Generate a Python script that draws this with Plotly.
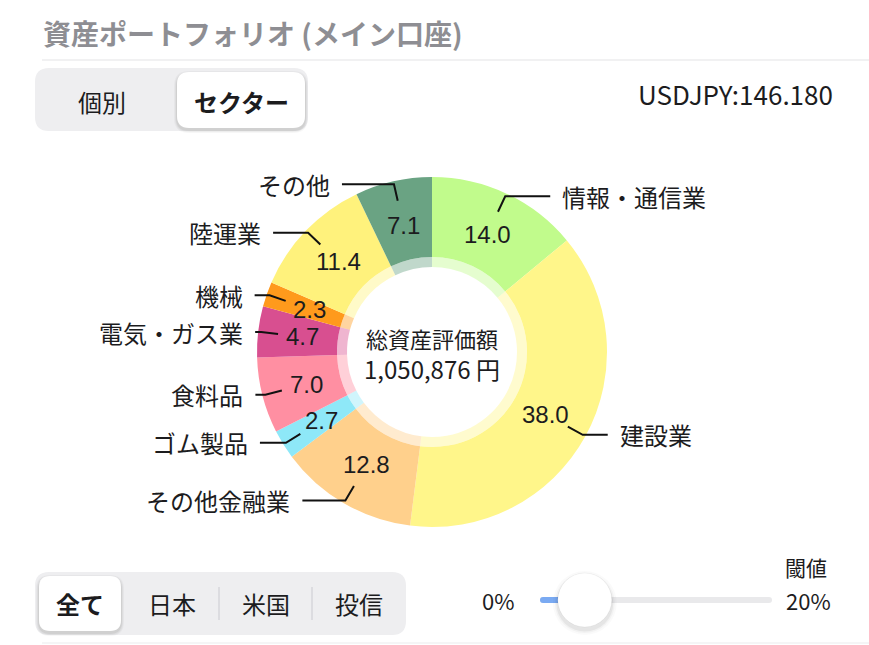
import math
import plotly.graph_objects as go

# ---------------- data ----------------
title_text = "資産ポートフォリオ (メイン口座)"
view_tabs = ["個別", "セクター"]
selected_view = 1
market_tabs = ["全て", "日本", "米国", "投信"]
selected_market = 0
usdjpy = 146.180
center_title = "総資産評価額"
total_value = 1050876
threshold_label = "閾値"
threshold_min = 0
threshold_max = 20
threshold_value = 2

labels = ["情報・通信業", "建設業", "その他金融業", "ゴム製品", "食料品",
          "電気・ガス業", "機械", "陸運業", "その他"]
values = [14.0, 38.0, 12.8, 2.7, 7.0, 4.7, 2.3, 11.4, 7.1]
colors = ["#c1fb8c", "#fff68a", "#ffd08c", "#8ee8f8", "#ff8fa2",
          "#d84f90", "#ff9a1c", "#fff27c", "#6aa383"]

# ---------------- layout helpers ----------------
W, H = 869, 645
FONT = "Noto Sans CJK JP"
NUM_FONT = "Liberation Sans"
TEXT = "#1c1c1e"


def X(px):
    return px / W


def Y(py):
    return 1 - py / H


def rrect(x0, y0, x1, y1, r):
    return (f"M {X(x0 + r)},{Y(y0)} L {X(x1 - r)},{Y(y0)} "
            f"Q {X(x1)},{Y(y0)} {X(x1)},{Y(y0 + r)} L {X(x1)},{Y(y1 - r)} "
            f"Q {X(x1)},{Y(y1)} {X(x1 - r)},{Y(y1)} L {X(x0 + r)},{Y(y1)} "
            f"Q {X(x0)},{Y(y1)} {X(x0)},{Y(y1 - r)} L {X(x0)},{Y(y0 + r)} "
            f"Q {X(x0)},{Y(y0)} {X(x0 + r)},{Y(y0)} Z")


def rgba(hexc, a):
    h = hexc.lstrip("#")
    return f"rgba({int(h[0:2], 16)},{int(h[2:4], 16)},{int(h[4:6], 16)},{a})"


def text(px, py, s, size, xanchor="center", color=TEXT, weight=400, family=FONT):
    return dict(x=X(px), y=Y(py), xref="paper", yref="paper", text=s, showarrow=False,
                xanchor=xanchor, yanchor="middle",
                font=dict(family=family, size=size, color=color, weight=weight))


cx, cy = 432, 352
R_OUT, R_IN, R_RING = 175, 95, 85
R_VAL, R_LEAD0, R_LEAD1 = 130, 155, 172
leader_len = [45, 25, 43, 26, 10, 6, 15, 35, 52]

shapes = []
annotations = []

# ---------------- donut ----------------
fig = go.Figure()
fig.add_trace(go.Pie(
    labels=labels, values=values, sort=False, direction="clockwise", rotation=0,
    hole=R_IN / R_OUT, marker=dict(colors=colors, line=dict(width=0)),
    textinfo="none", hoverinfo="label+value", showlegend=False,
    domain=dict(x=[X(cx - R_OUT), X(cx + R_OUT)], y=[Y(cy + R_OUT), Y(cy - R_OUT)]),
))
fig.add_trace(go.Pie(
    labels=labels, values=values, sort=False, direction="clockwise", rotation=0,
    hole=R_RING / R_IN,
    marker=dict(colors=[rgba(c, 0.42) for c in colors], line=dict(width=0)),
    textinfo="none", hoverinfo="skip", showlegend=False,
    domain=dict(x=[X(cx - R_IN), X(cx + R_IN)], y=[Y(cy + R_IN), Y(cy - R_IN)]),
))

total = sum(values)
cum = 0.0
for i, (lab, v) in enumerate(zip(labels, values)):
    th = 2 * math.pi * (cum + v / 2) / total
    cum += v
    s, c = math.sin(th), math.cos(th)
    # value label
    annotations.append(text(cx + R_VAL * s, cy - R_VAL * c, f"{v:.1f}", 24,
                            family=NUM_FONT))
    # leader line
    x0, y0 = cx + R_LEAD0 * s, cy - R_LEAD0 * c
    x1, y1 = cx + R_LEAD1 * s, cy - R_LEAD1 * c
    side = 1 if s > 0 else -1
    x2 = x1 + side * leader_len[i]
    shapes.append(dict(
        type="path", xref="paper", yref="paper",
        path=f"M {X(x0)},{Y(y0)} L {X(x1)},{Y(y1)} L {X(x2)},{Y(y1)}",
        line=dict(color="#111111", width=2)))
    annotations.append(text(x2 + side * 10, y1, lab, 24,
                            xanchor="left" if side > 0 else "right"))

annotations.append(text(cx, 338, center_title, 22))
annotations.append(text(cx, 368, f"{total_value:,} 円", 24))

# ---------------- header ----------------
annotations.append(text(41, 33, title_text, 28, xanchor="left",
                        color="#8e8e93", weight=700))
shapes.append(dict(type="line", xref="paper", yref="paper", x0=X(42), x1=X(869),
                   y0=Y(60), y1=Y(60), line=dict(color="#e3e3e6", width=1.2)))
shapes.append(dict(type="line", xref="paper", yref="paper", x0=X(42), x1=X(869),
                   y0=Y(643), y1=Y(643), line=dict(color="#ececee", width=1.2)))

annotations.append(text(835, 93, f"USDJPY:{usdjpy:.3f}", 26, xanchor="right"))

# top segmented control
shapes.append(dict(type="path", xref="paper", yref="paper",
                   path=rrect(35, 68, 308, 131, 14), fillcolor="#eeeef0",
                   line=dict(width=0), layer="below"))
top_centers = [102, 241]
top_boxes = [(38, 72, 174, 128), (177, 72, 305, 128)]
for k, (lab, xc) in enumerate(zip(view_tabs, top_centers)):
    if k == selected_view:
        bx = top_boxes[k]
        for d, a in [(3, 0.03), (2, 0.04), (1, 0.06)]:
            shapes.append(dict(type="path", xref="paper", yref="paper",
                               path=rrect(bx[0] - d, bx[1] - d + 2, bx[2] + d, bx[3] + d + 2, 12 + d),
                               fillcolor=f"rgba(0,0,0,{a})", line=dict(width=0), layer="below"))
        shapes.append(dict(type="path", xref="paper", yref="paper",
                           path=rrect(*bx, 12), fillcolor="#ffffff",
                           line=dict(width=0), layer="below"))
    annotations.append(text(xc, 101, lab, 24, weight=700 if k == selected_view else 400))

# bottom segmented control
shapes.append(dict(type="path", xref="paper", yref="paper",
                   path=rrect(35, 572, 406, 635, 14), fillcolor="#eeeef0",
                   line=dict(width=0), layer="below"))
bot_centers = [80, 172, 266, 359]
bot_box = (39, 576, 121, 631)
for k, (lab, xc) in enumerate(zip(market_tabs, bot_centers)):
    if k == selected_market:
        bx = bot_box
        for d, a in [(3, 0.03), (2, 0.04), (1, 0.06)]:
            shapes.append(dict(type="path", xref="paper", yref="paper",
                               path=rrect(bx[0] - d, bx[1] - d + 2, bx[2] + d, bx[3] + d + 2, 11 + d),
                               fillcolor=f"rgba(0,0,0,{a})", line=dict(width=0), layer="below"))
        shapes.append(dict(type="path", xref="paper", yref="paper",
                           path=rrect(*bx, 11), fillcolor="#ffffff",
                           line=dict(width=0), layer="below"))
    annotations.append(text(xc, 603, lab, 24, weight=700 if k == selected_market else 400))
for xd in [219, 312]:
    shapes.append(dict(type="line", xref="paper", yref="paper", x0=X(xd), x1=X(xd),
                       y0=Y(587), y1=Y(620), line=dict(color="#d1d1d6", width=1.2)))

# slider
tx0, tx1, ty = 540, 772, 600
knob_r = 27
annotations.append(text(516, ty, f"{threshold_min}%", 22, xanchor="right"))
annotations.append(text(833, ty, f"{threshold_max}%", 22, xanchor="right"))
annotations.append(text(829, 567, threshold_label, 21, xanchor="right"))
shapes.append(dict(type="path", xref="paper", yref="paper",
                   path=rrect(tx0, ty - 3, tx1, ty + 3, 3), fillcolor="#e9e9eb",
                   line=dict(width=0)))
kx = tx0 + knob_r + (threshold_value - threshold_min) / (threshold_max - threshold_min) * (tx1 - tx0 - 2 * knob_r)
shapes.append(dict(type="path", xref="paper", yref="paper",
                   path=rrect(tx0, ty - 3, kx, ty + 3, 3), fillcolor="#7aaaf2",
                   line=dict(width=0)))
for d, a in [(5, 0.02), (3, 0.03), (1.5, 0.05)]:
    shapes.append(dict(type="circle", xref="paper", yref="paper",
                       x0=X(kx - knob_r - d), x1=X(kx + knob_r + d),
                       y0=Y(ty + 3 + knob_r + d), y1=Y(ty + 3 - knob_r - d),
                       fillcolor=f"rgba(0,0,0,{a})", line=dict(width=0)))
shapes.append(dict(type="circle", xref="paper", yref="paper",
                   x0=X(kx - knob_r), x1=X(kx + knob_r),
                   y0=Y(ty + knob_r), y1=Y(ty - knob_r),
                   fillcolor="#ffffff", line=dict(color="rgba(0,0,0,0.06)", width=0.8)))

fig.update_layout(
    width=W, height=H, margin=dict(l=0, r=0, t=0, b=0),
    paper_bgcolor="#ffffff", plot_bgcolor="#ffffff",
    shapes=shapes, annotations=annotations, showlegend=False,
)
fig.write_html("out.html")
